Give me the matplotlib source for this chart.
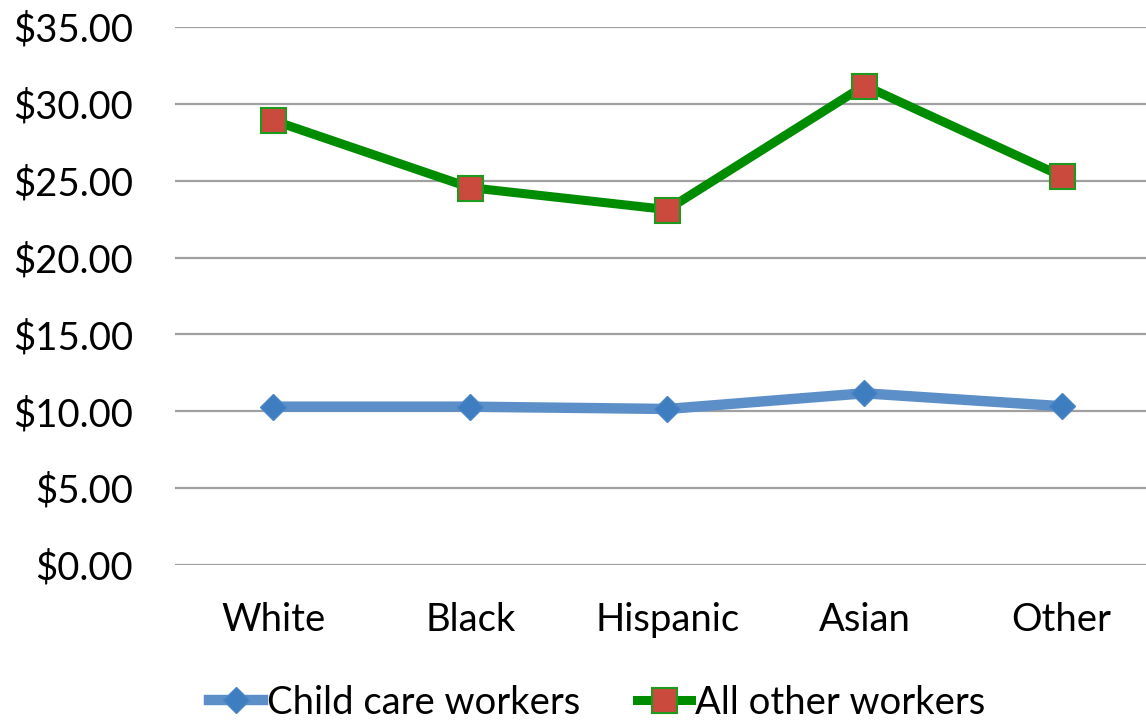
import matplotlib
matplotlib.use("Agg")
import matplotlib.pyplot as plt
from matplotlib.ticker import MultipleLocator, FuncFormatter

groups = ["White", "Black", "Hispanic", "Asian", "Other"]
child_care = [10.30, 10.30, 10.15, 11.17, 10.33]
all_other = [28.92, 24.55, 23.12, 31.19, 25.30]

plt.rcParams["font.family"] = ["Lato", "DejaVu Sans"]
FS = 27.5

fig = plt.figure(figsize=(11.46, 7.2), dpi=100)
ax = fig.add_axes([0.1523, 0.2153, 0.86, 0.7472])

x = range(len(groups))

ax.plot(x, child_care, color="#5C8FC8", linewidth=7.5, marker="D",
        markersize=13, markerfacecolor="#3F7DC1", markeredgecolor="#4A86C6",
        markeredgewidth=1, label="Child care workers", zorder=3,
        solid_joinstyle="miter")
ax.plot(x, all_other, color="#008C00", linewidth=6.5, marker="s",
        markersize=18, markerfacecolor="#CB4A3E", markeredgecolor="#1E9A1E",
        markeredgewidth=1.5, label="All other workers", zorder=4,
        solid_joinstyle="miter")

ax.set_xlim(-0.5, len(groups) - 0.5)
ax.set_ylim(0, 35)
ax.yaxis.set_major_locator(MultipleLocator(5))
ax.yaxis.set_major_formatter(FuncFormatter(lambda v, p: f"${v:.2f}"))
ax.set_xticks(list(x))
ax.set_xticklabels(groups)
ax.tick_params(axis="both", length=0, labelsize=FS, colors="black")
ax.tick_params(axis="y", pad=30)
ax.tick_params(axis="x", pad=27)

ax.grid(axis="y", color="#A0A0A0", linewidth=1.6)
ax.set_axisbelow(True)
for s in ax.spines.values():
    s.set_visible(False)

fig.legend(loc="center", bbox_to_anchor=(0.521, 0.024), ncol=2,
           frameon=False, fontsize=FS, handlelength=1.4,
           handletextpad=0.1, columnspacing=1.5)

fig.savefig("out.png", dpi=100)
